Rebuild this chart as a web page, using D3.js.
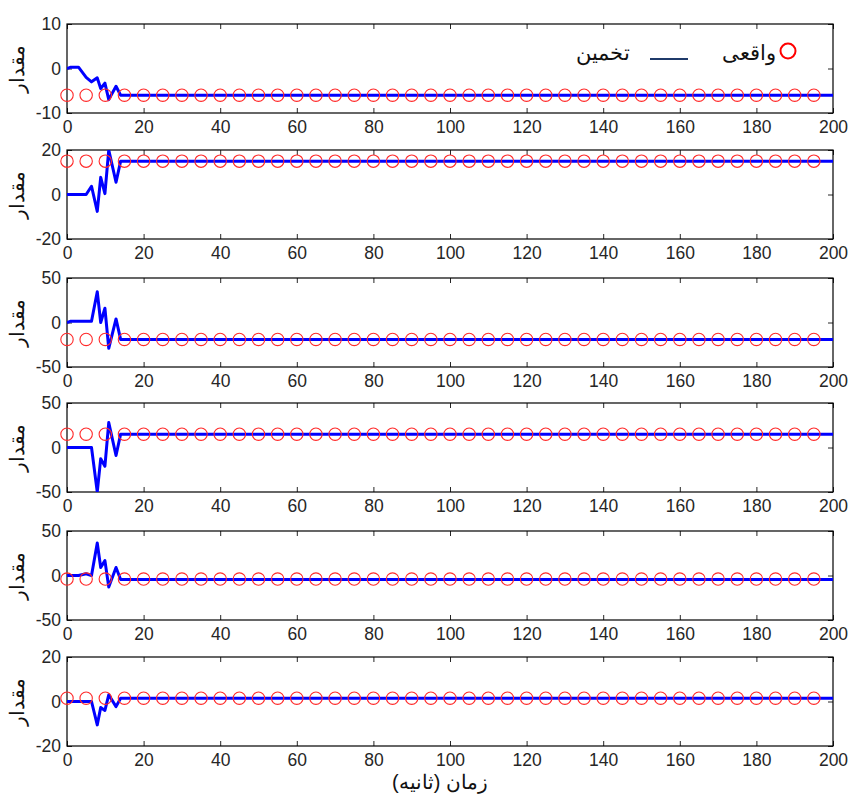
<!DOCTYPE html>
<html>
<head>
<meta charset="utf-8">
<script src="https://cdn.jsdelivr.net/npm/d3@7"></script>
<style>
  body { margin: 0; background: #fff; }
  text { font-family: "Liberation Sans", Arial, sans-serif; }
</style>
</head>
<body>
<div id="chart"></div>
<script>
// shared time grid of the estimate line
const times = [0, 1, 3, 5, 6.4, 7.9, 8.8, 9.9, 10.9, 12.8, 14, 200];

// estimated values (line), one array per panel
const est1 = [0, 0.3, 0.3, -2, -3, -2.1, -4.5, -3.3, -7, -4, -6, -6];
const est2 = [0, 0, 0, 0, 3.7, -7.6, 7.7, 0.4, 20, 5.5, 15, 15];
const est3 = [0, 1.5, 1.5, 1.5, 1.5, 34.6, 0, 16, -29, 4, -19, -19];
const est4 = [0, 0, 0, 0, 0, -50, -12.6, -21, 28, -9, 15, 15];
const est5 = [0, 0, 0, 2, 0, 36.6, 9, 16.7, -13, 9, -4.4, -4.4];
const est6 = [0, 0, 0, 0, 0, -10.5, -2.7, -4, 3, -2.3, 1.5, 1.5];

// true values (circles)
const actualValues = [-6, 15, -19, 15, -4, 1.5];
const markerTimes = d3.range(0, 200, 5);

// y domains and tick labels per panel
const yDomains = [[-10, 10], [-20, 20], [-50, 50], [-50, 50], [-50, 50], [-20, 20]];
const yTicks = [[-10, 0, 10], [-20, 0, 20], [-50, 0, 50], [-50, 0, 50], [-50, 0, 50], [-20, 0, 20]];
const xTicks = d3.range(0, 201, 20);

const estimates = [est1, est2, est3, est4, est5, est6];

const width = 852, height = 795;
const left = 67, right = 833;
const panelTops = [24, 150, 278, 403, 531, 657];
const panelH = 89;

const svg = d3.select("#chart").append("svg")
  .attr("width", width)
  .attr("height", height);

const x = d3.scaleLinear().domain([0, 200]).range([left, right]);

estimates.forEach((est, i) => {
  const top = panelTops[i];
  const y = d3.scaleLinear().domain(yDomains[i]).range([top + panelH, top]);
  const g = svg.append("g");
  const clipId = "clip" + i;

  svg.append("clipPath").attr("id", clipId)
    .append("rect")
    .attr("x", left).attr("y", top)
    .attr("width", right - left).attr("height", panelH);

  // axes, ticks inward on all four sides
  const axB = g.append("g").attr("transform", `translate(0,${top + panelH})`)
    .call(d3.axisBottom(x).tickValues(xTicks).tickSizeInner(-5).tickSizeOuter(0).tickPadding(8));
  const axT = g.append("g").attr("transform", `translate(0,${top})`)
    .call(d3.axisTop(x).tickValues(xTicks).tickSizeInner(-5).tickSizeOuter(0));
  const axL = g.append("g").attr("transform", `translate(${left},0)`)
    .call(d3.axisLeft(y).tickValues(yTicks[i]).tickSizeInner(-5).tickSizeOuter(0).tickPadding(6));
  const axR = g.append("g").attr("transform", `translate(${right},0)`)
    .call(d3.axisRight(y).tickValues(yTicks[i]).tickSizeInner(-5).tickSizeOuter(0));

  [axB, axT, axL, axR].forEach(a => {
    a.select(".domain").remove();
    a.selectAll("line").attr("stroke", "#262626");
  });
  axT.selectAll("text").remove();
  axR.selectAll("text").remove();
  [axB, axL].forEach(a => {
    a.selectAll("text").attr("font-size", 17.5).attr("fill", "#262626")
      .text(d => d < 0 ? "-" + Math.abs(d) : d);
  });

  g.append("rect")
    .attr("x", left).attr("y", top)
    .attr("width", right - left).attr("height", panelH)
    .attr("fill", "none").attr("stroke", "#000").attr("stroke-width", 1.2);

  const line = d3.line().x((d, j) => x(times[j])).y(d => y(d));

  g.append("path")
    .datum(est)
    .attr("clip-path", `url(#${clipId})`)
    .attr("d", line)
    .attr("fill", "none")
    .attr("stroke", "#0000ff")
    .attr("stroke-width", 3)
    .attr("stroke-linejoin", "round");

  g.selectAll("circle.actual")
    .data(markerTimes)
    .join("circle")
    .attr("class", "actual")
    .attr("cx", d => x(d))
    .attr("cy", y(actualValues[i]))
    .attr("r", 6.2)
    .attr("fill", "none")
    .attr("stroke", "#ff2a2a")
    .attr("stroke-width", 1.1);

  svg.append("text")
    .attr("transform", `translate(24,${top + panelH / 2}) rotate(-90)`)
    .attr("text-anchor", "middle")
    .attr("font-size", 20)
    .attr("fill", "#111")
    .attr("font-family", "DejaVu Sans, sans-serif")
    .text("مقدار");
});

// legend in first panel
const leg = svg.append("g");
leg.append("circle")
  .attr("cx", 788).attr("cy", 51).attr("r", 7.5)
  .attr("fill", "none").attr("stroke", "#ff0000").attr("stroke-width", 2);
leg.append("text")
  .attr("x", 776).attr("y", 60)
  .attr("text-anchor", "end").attr("font-size", 21).attr("fill", "#111")
  .attr("font-family", "DejaVu Sans, sans-serif")
  .text("واقعی");
leg.append("line")
  .attr("x1", 650).attr("x2", 688).attr("y1", 59).attr("y2", 59)
  .attr("stroke", "#1f3a6a").attr("stroke-width", 2);
leg.append("text")
  .attr("x", 630).attr("y", 60)
  .attr("text-anchor", "end").attr("font-size", 21).attr("fill", "#111")
  .attr("font-family", "DejaVu Sans, sans-serif")
  .text("تخمین");

// x axis title
svg.append("text")
  .attr("x", 440).attr("y", 789)
  .attr("text-anchor", "middle")
  .attr("font-size", 20)
  .attr("fill", "#111")
  .attr("font-family", "DejaVu Sans, sans-serif")
  .text("زمان (ثانیه)");
</script>
</body>
</html>
